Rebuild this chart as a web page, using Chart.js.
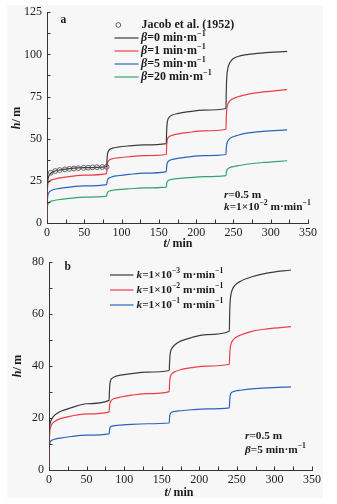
<!DOCTYPE html>
<html>
<head>
<meta charset="utf-8">
<script src="https://cdn.jsdelivr.net/npm/chart.js@4.4.1/dist/chart.umd.min.js"></script>
<style>
  html, body { margin: 0; padding: 0; background: #ffffff; }
  #frame { position: absolute; left: 7px; top: 5px; width: 316px; height: 493px; background: #f7f7f7; }
  #ca { position: absolute; left: 0; top: 0; }
  #cb { position: absolute; left: 0; top: 250px; }
</style>
</head>
<body>
<div id="frame"></div>
<canvas id="ca" width="337" height="250" style="width:337px;height:250px"></canvas>
<canvas id="cb" width="337" height="254" style="width:337px;height:254px"></canvas>
<script>
// Pumping time (min); the rate is stepped up at 80, 160 and 240 min
const times = [0, 0.3, 1, 2, 4, 8, 15, 30, 50, 80,
  80.4, 81, 82, 84, 88, 95, 110, 130, 160,
  160.4, 161, 162, 164, 168, 175, 190, 210, 240,
  240.4, 241, 242, 244, 248, 255, 270, 290, 322];

// (a) drawdown h (m) for k = 1e-2 m/min and several β (min/m)
const betaLabels = ['0', '1', '5', '20'];
const hBeta0 = [0, 20, 25, 27.3, 29.0, 30.3, 31.3, 32.2, 32.8, 33.4,
  37, 40.5, 42.4, 43.6, 44.4, 45.0, 45.7, 46.3, 47.1,
  54, 58.5, 61.2, 62.8, 64.0, 64.9, 66.0, 66.9, 67.9,
  78, 86, 90.5, 94.0, 96.8, 98.6, 100.0, 100.9, 101.8];
const hBeta1 = [0, 14, 22.5, 24.0, 25.0, 25.8, 26.6, 27.5, 28.4, 29.3,
  32, 35, 36.6, 37.5, 38.1, 38.6, 39.3, 39.9, 40.6,
  45, 48.5, 50.3, 51.3, 52.0, 52.7, 53.7, 54.6, 55.6,
  62, 67, 69.8, 71.8, 73.4, 74.7, 76.4, 77.7, 79.1];
const hBeta5 = [0, 10, 16, 17.6, 18.8, 19.7, 20.4, 21.3, 22.0, 22.8,
  24, 25.3, 26.2, 26.9, 27.5, 28.0, 28.8, 29.6, 30.5,
  33, 35, 36.2, 37.0, 37.7, 38.3, 39.2, 39.9, 40.6,
  44, 46.5, 48.2, 49.6, 50.8, 51.9, 53.4, 54.3, 55.2];
const hBeta20 = [0, 7, 10.8, 11.8, 12.6, 13.2, 13.8, 14.6, 15.3, 15.9,
  17.0, 17.9, 18.5, 19.0, 19.4, 19.8, 20.3, 20.8, 21.3,
  23.0, 24.2, 25.0, 25.5, 25.9, 26.3, 26.9, 27.5, 28.1,
  29.8, 31.0, 31.9, 32.6, 33.3, 33.9, 35.0, 35.9, 36.9];

// Jacob et al. (1952) solution for the first step
const jacobT = [5, 11, 17, 24, 30, 36, 42, 49, 55, 61, 67, 74, 80];
const jacobH = [29.8, 30.8, 31.4, 31.8, 32.1, 32.3, 32.5, 32.7, 32.8, 33.0, 33.1, 33.2, 33.3];

// (b) drawdown h (m) for β = 5 min/m and several k (m/min)
const kExponents = ['\u22123', '\u22122', '\u22121'];
const hK3 = [0, 13, 17, 18.5, 19.8, 21.2, 22.5, 24.0, 25.5, 26.8,
  30, 33, 34.5, 35.3, 36.0, 36.5, 37.1, 37.7, 38.3,
  41, 44, 45.8, 47.0, 48.3, 49.6, 51.0, 52.1, 53.4,
  60, 64.5, 67.3, 69.5, 71.3, 72.7, 74.4, 75.8, 77.0];
const hK2 = [0, 9, 14.5, 16.3, 17.7, 18.8, 19.8, 20.8, 21.6, 22.4,
  24, 25.6, 26.4, 27.1, 27.6, 28.1, 28.8, 29.4, 30.2,
  33, 35, 36.3, 37.2, 37.9, 38.6, 39.4, 40.0, 40.7,
  44, 46.5, 48.3, 49.7, 50.9, 52.0, 53.4, 54.3, 55.2];
const hK1 = [0, 7, 10.2, 11.0, 11.5, 11.9, 12.3, 12.9, 13.4, 13.9,
  15, 16.1, 16.6, 16.9, 17.1, 17.3, 17.6, 17.8, 18.1,
  20, 21.3, 21.9, 22.3, 22.6, 22.8, 23.2, 23.5, 23.9,
  26.5, 28.5, 29.5, 30.0, 30.4, 30.7, 31.2, 31.6, 32.0];

const INK = '#1c1c1c';
const AXIS = '#333333';
const SERIF = '"Liberation Serif", "Times New Roman", serif';
const COLORS = { black: '#3c3c3c', red: '#ee3d48', blue: '#2c62bf', green: '#33a56e' };
const TXT = 12;
const NOTE = 11.3;

const pts = (xs, ys) => xs.map((x, i) => ({ x: x, y: ys[i] }));

function curve(values, color) {
  return {
    data: pts(times, values), showLine: true, borderColor: color, borderWidth: 1.2,
    pointRadius: 0, cubicInterpolationMode: 'monotone', fill: false
  };
}

function partFont(st, size) {
  const sup = st.indexOf('s') >= 0;
  const fs = sup ? size * 0.68 : size;
  return (st.indexOf('i') >= 0 ? 'italic ' : '') + 'bold ' + fs + 'px ' + SERIF;
}

// Mixed-style text run: [text, style] with 'i' italic, 's' superscript
function rich(ctx, x, y, parts, size) {
  let cx = x;
  ctx.textAlign = 'left';
  ctx.textBaseline = 'middle';
  ctx.fillStyle = INK;
  parts.forEach(([s, st]) => {
    ctx.font = partFont(st, size);
    ctx.fillText(s, cx, st.indexOf('s') >= 0 ? y - size * 0.36 : y);
    cx += ctx.measureText(s).width;
  });
  return cx;
}

function richWidth(ctx, parts, size) {
  let w = 0;
  parts.forEach(([s, st]) => {
    ctx.font = partFont(st, size);
    w += ctx.measureText(s).width;
  });
  return w;
}

// Inward tick marks on both axes
function drawTicks(chart) {
  const ctx = chart.ctx, xs = chart.scales.x, ys = chart.scales.y;
  ctx.save();
  ctx.strokeStyle = AXIS;
  ctx.lineWidth = 1;
  ctx.beginPath();
  xs.ticks.forEach(t => {
    const px = Math.round(xs.getPixelForValue(t.value)) + 0.5;
    ctx.moveTo(px, ys.bottom);
    ctx.lineTo(px, ys.bottom - 3.5);
  });
  ys.ticks.forEach(t => {
    const py = Math.round(ys.getPixelForValue(t.value)) + 0.5;
    ctx.moveTo(xs.left, py);
    ctx.lineTo(xs.left + 3.5, py);
  });
  ctx.stroke();
  ctx.restore();
}

function axisTitles(ctx, hx, hy, tx, ty) {
  ctx.save();
  ctx.translate(hx, hy);
  ctx.rotate(-Math.PI / 2);
  const hParts = [['h', 'i'], ['/\u2009m', '']];
  rich(ctx, -richWidth(ctx, hParts, TXT) / 2, 0, hParts, TXT);
  ctx.restore();
  const tParts = [['t', 'i'], ['/\u2009min', '']];
  rich(ctx, tx - richWidth(ctx, tParts, TXT) / 2, ty, tParts, TXT);
}

function scaleOpts(max, step, labelStep, yWidth, xHeight) {
  const tickFont = { family: SERIF, size: 12 };
  return {
    x: {
      type: 'linear', min: 0, max: 350,
      ticks: { stepSize: 25, autoSkip: false, maxRotation: 0, padding: 3, color: INK, font: tickFont,
        callback: v => (v % 50 === 0 ? String(v) : '') },
      grid: { display: false, drawTicks: false },
      border: { display: true, color: AXIS, width: 1 },
      afterFit: s => { s.height = xHeight; }
    },
    y: {
      type: 'linear', min: 0, max: max,
      ticks: { stepSize: step, autoSkip: false, padding: 5, color: INK, font: tickFont,
        callback: v => (v % labelStep === 0 ? String(v) : '') },
      grid: { display: false, drawTicks: false },
      border: { display: true, color: AXIS, width: 1 },
      afterFit: s => { s.width = yWidth; }
    }
  };
}

// ---------- panel a ----------
const decorA = {
  id: 'decorA',
  afterDraw(chart) {
    const ctx = chart.ctx;
    drawTicks(chart);
    ctx.save();
    rich(ctx, 60.5, 20, [['a', '']], 11.5);
    // legend
    ctx.beginPath();
    ctx.strokeStyle = '#555';
    ctx.lineWidth = 0.9;
    ctx.arc(118.3, 25, 2.4, 0, Math.PI * 2);
    ctx.stroke();
    rich(ctx, 141.5, 25, [['Jacob et al. (1952)', '']], TXT);
    const cols = [COLORS.black, COLORS.red, COLORS.blue, COLORS.green];
    betaLabels.forEach((b, i) => {
      const yy = 38 + i * 13;
      ctx.strokeStyle = cols[i];
      ctx.lineWidth = 1.2;
      ctx.beginPath();
      ctx.moveTo(114.5, yy);
      ctx.lineTo(138.5, yy);
      ctx.stroke();
      rich(ctx, 141, yy, [['\u03b2', 'i'], ['=' + b + ' min\u00b7m', ''], ['\u22121', 's']], TXT);
    });
    // parameters
    rich(ctx, 224, 195, [['r', 'i'], ['=0.5 m', '']], NOTE);
    rich(ctx, 224, 207.5, [['k', 'i'], ['=1\u00d710', ''], ['\u22122', 's'], [' m\u00b7min', ''], ['\u22121', 's']], NOTE);
    axisTitles(ctx, 17, 118, 178, 244);
    ctx.restore();
  }
};

new Chart(document.getElementById('ca'), {
  type: 'scatter',
  data: {
    datasets: [
      { data: pts(jacobT, jacobH), showLine: false, pointRadius: 2.4, pointBorderWidth: 0.9,
        pointBorderColor: '#555555', pointBackgroundColor: 'rgba(0,0,0,0)' },
      curve(hBeta0, COLORS.black),
      curve(hBeta1, COLORS.red),
      curve(hBeta5, COLORS.blue),
      curve(hBeta20, COLORS.green)
    ]
  },
  options: {
    responsive: false, animation: false, events: [],
    layout: { padding: { top: 12, right: 29, left: 0, bottom: 0 } },
    plugins: { legend: { display: false }, tooltip: { enabled: false } },
    scales: scaleOpts(125, 12.5, 25, 47, 27)
  },
  plugins: [decorA]
});

// ---------- panel b ----------
const decorB = {
  id: 'decorB',
  afterDraw(chart) {
    const ctx = chart.ctx;
    drawTicks(chart);
    ctx.save();
    rich(ctx, 64.5, 17.5, [['b', '']], 11.5);
    const cols = [COLORS.black, COLORS.red, COLORS.blue];
    kExponents.forEach((e, i) => {
      const yy = 25 + i * 15;
      ctx.strokeStyle = cols[i];
      ctx.lineWidth = 1.2;
      ctx.beginPath();
      ctx.moveTo(110, yy);
      ctx.lineTo(133.5, yy);
      ctx.stroke();
      rich(ctx, 136.5, yy, [['k', 'i'], ['=1\u00d710', ''], [e, 's'], [' m\u00b7min', ''], ['\u22121', 's']], NOTE);
    });
    rich(ctx, 245, 186.5, [['r', 'i'], ['=0.5 m', '']], NOTE);
    rich(ctx, 245, 200, [['\u03b2', 'i'], ['=5 min\u00b7m', ''], ['\u22121', 's']], NOTE);
    axisTitles(ctx, 18, 116, 179, 243);
    ctx.restore();
  }
};

new Chart(document.getElementById('cb'), {
  type: 'scatter',
  data: {
    datasets: [
      curve(hK3, COLORS.black),
      curve(hK2, COLORS.red),
      curve(hK1, COLORS.blue)
    ]
  },
  options: {
    responsive: false, animation: false, events: [],
    layout: { padding: { top: 9, right: 25, left: 0, bottom: 0 } },
    plugins: { legend: { display: false }, tooltip: { enabled: false } },
    scales: scaleOpts(80, 10, 20, 49, 34)
  },
  plugins: [decorB]
});
</script>
</body>
</html>
